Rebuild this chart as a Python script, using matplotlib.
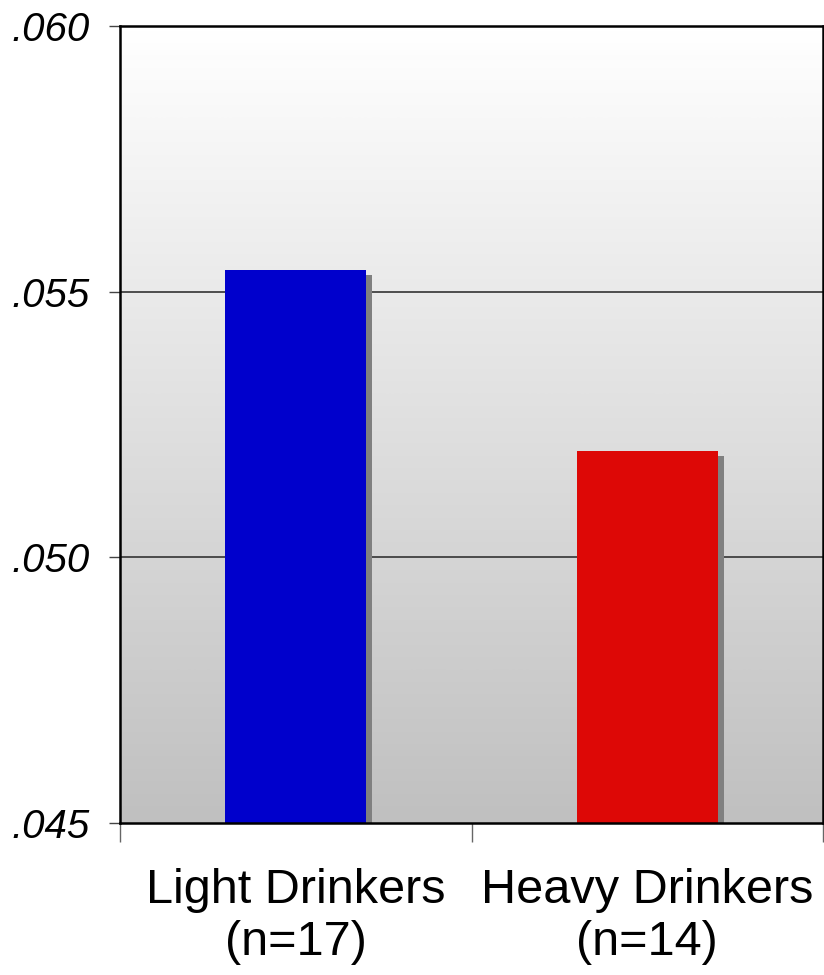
import matplotlib
matplotlib.use("Agg")
import matplotlib.pyplot as plt
import matplotlib.transforms as mtransforms
from matplotlib.colors import LinearSegmentedColormap
import numpy as np

categories = ["Light Drinkers\n(n=17)", "Heavy Drinkers\n(n=14)"]
values = [0.05541, 0.05200]
colors = ["#0000CC", "#DD0806"]
yticks = [0.045, 0.050, 0.055, 0.060]
ytick_labels = [".045", ".050", ".055", ".060"]

plt.rcParams['font.family'] = ['Liberation Sans', 'DejaVu Sans']

fig = plt.figure(figsize=(8.24, 9.75), dpi=100)
ax = fig.add_axes([120/824, 1 - 823/975, 703/824, 797/975])

ymin, ymax = 0.045, 0.060

# gradient background (gray at bottom, white at top)
grad = np.linspace(1, 0, 256).reshape(-1, 1)
cmap = LinearSegmentedColormap.from_list("bg", ["#FFFFFF", "#C0C0C0"])
ax.imshow(grad, aspect='auto', cmap=cmap, extent=[0, 2, ymin, ymax],
          origin='lower', zorder=0, interpolation='bicubic')
ax.set_ylim(ymin, ymax)
ax.set_xlim(0, 2)

# gridlines
for yv in [0.050, 0.055]:
    ax.axhline(yv, color="#333333", lw=1.2, zorder=1)

x = np.arange(len(categories)) + 0.5
width = 0.40
heights = [v - ymin for v in values]

shadow_tr = ax.transData + mtransforms.ScaledTranslation(6/100, -5/100, fig.dpi_scale_trans)
ax.bar(x, heights, width=width, bottom=ymin, color="#808080", zorder=2,
       transform=shadow_tr, clip_on=True)
ax.bar(x, heights, width=width, bottom=ymin, color=colors, zorder=3)

for s in ax.spines.values():
    s.set_linewidth(1.8)
    s.set_color("black")
    s.set_zorder(5)

ax.set_yticks(yticks)
ax.set_yticklabels(ytick_labels, fontsize=29, fontstyle='italic')
ax.tick_params(axis='y', direction='out', length=8, width=1, color="#444444", pad=14)

ax.set_xticks([0, 1, 2])
ax.set_xticklabels([])
ax.tick_params(axis='x', direction='out', length=14, width=1, color="#666666")
for xi, lab in zip(x, categories):
    ax.text(xi, -0.057, lab, transform=ax.get_xaxis_transform(), ha='center', va='top',
            fontsize=35, linespacing=1.2)

fig.savefig("out.png", dpi=100)
